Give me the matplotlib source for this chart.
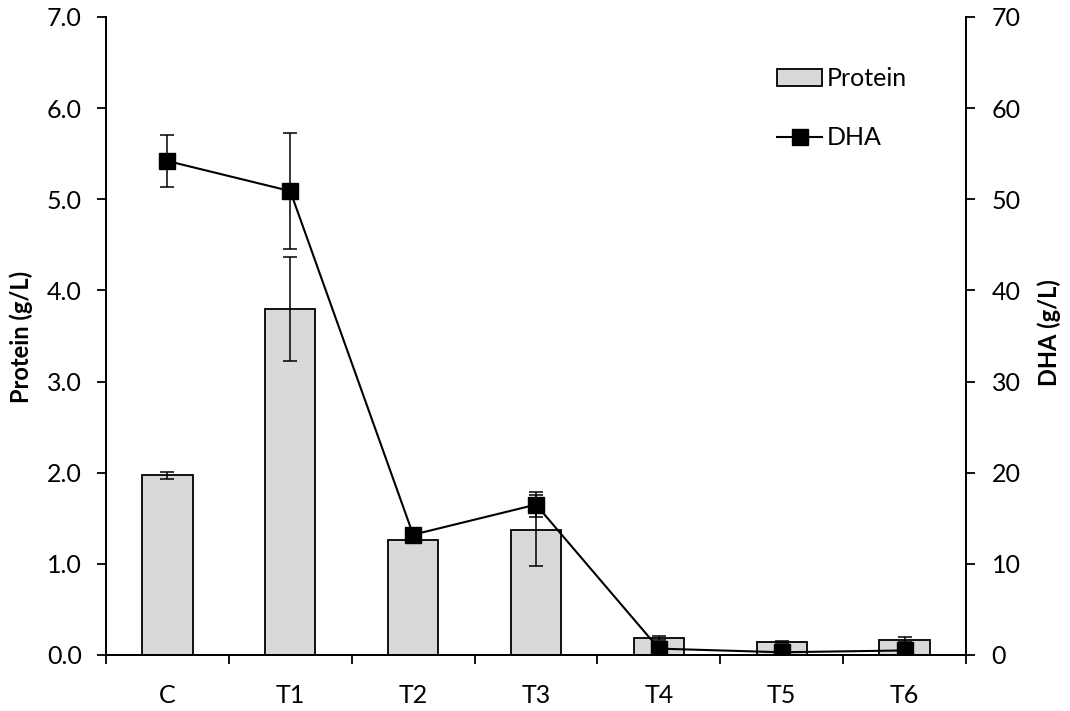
import matplotlib
matplotlib.use("Agg")
import matplotlib.pyplot as plt
import numpy as np
from matplotlib.patches import Patch
from matplotlib.lines import Line2D

categories = ["C", "T1", "T2", "T3", "T4", "T5", "T6"]
protein = [1.97, 3.80, 1.26, 1.37, 0.19, 0.14, 0.17]
protein_err = [0.04, 0.57, 0.01, 0.39, 0.02, 0.01, 0.03]
dha = [54.2, 50.9, 13.2, 16.5, 0.7, 0.3, 0.5]
dha_err = [2.9, 6.4, 0.3, 1.4, 0.3, 0.2, 0.3]

FONT = "Lato"
W, H = 1070, 711

fig = plt.figure(figsize=(W / 100, H / 100), dpi=100)
ax = fig.add_axes([106 / W, 1 - 655 / H, (966 - 106) / W, (655 - 17) / H])
ax2 = ax.twinx()

x = np.arange(len(categories))
ax.bar(x, protein, width=0.41, color="#d9d9d9", edgecolor="black", linewidth=1.3, zorder=2)
ax.errorbar(x, protein, yerr=protein_err, fmt="none", ecolor="black",
            elinewidth=1.1, capsize=4.7, capthick=1.1, zorder=3)

ax2.errorbar(x, dha, yerr=dha_err, color="black", linewidth=1.5, marker="s",
             markersize=11, markerfacecolor="black", ecolor="black",
             elinewidth=1.1, capsize=4.7, capthick=1.1, zorder=4)

ax.set_xlim(-0.5, len(categories) - 0.5)
ax.set_ylim(0, 7.0)
ax2.set_ylim(0, 70)
ax.set_yticks(np.arange(0, 7.01, 1.0))
ax.set_yticklabels([f"{v:.1f}" for v in np.arange(0, 7.01, 1.0)])
ax2.set_yticks(np.arange(0, 71, 10))

ax.set_xticks(x)
ax.set_xticklabels(categories)
ax.set_xticks(np.arange(-0.5, len(categories), 1.0), minor=True)
ax.tick_params(axis="x", which="major", length=0, pad=21)
ax.tick_params(axis="x", which="minor", length=6.5, width=1.3, direction="out")

ax.tick_params(axis="y", length=6.5, width=1.3, direction="out", labelsize=18, pad=11)
ax2.tick_params(axis="y", length=6.5, width=1.3, direction="out", labelsize=18, pad=12)
for a in (ax, ax2):
    for lbl in a.get_yticklabels():
        lbl.set_fontfamily(FONT)
    for sp in a.spines.values():
        sp.set_linewidth(1.3)
    a.spines["top"].set_visible(False)
for lbl in ax.get_xticklabels():
    lbl.set_fontfamily(FONT)
    lbl.set_fontsize(18)

# axis titles placed by hand, as in the original layout
fig.text(21 / W, 1 - 337 / H, "Protein (g/L)", rotation=90, ha="center", va="center",
         fontsize=17, fontweight="bold", family=FONT)
fig.text(1049 / W, 1 - 333 / H, "DHA (g/L)", rotation=90, ha="center", va="center",
         fontsize=17, fontweight="bold", family=FONT)

handles = [
    Patch(facecolor="#d9d9d9", edgecolor="black", linewidth=1.3),
    Line2D([0], [0], color="black", linewidth=1.5, marker="s", markersize=11),
]
fig.legend(handles, ["Protein", "DHA"], loc="upper left",
           bbox_to_anchor=(777 / W, 1 - 67 / H), frameon=False, borderpad=0,
           borderaxespad=0, prop={"family": FONT, "size": 18}, labelspacing=1.45,
           handlelength=1.8, handleheight=0.7, handletextpad=0.2)

fig.savefig("out.png", dpi=100)
